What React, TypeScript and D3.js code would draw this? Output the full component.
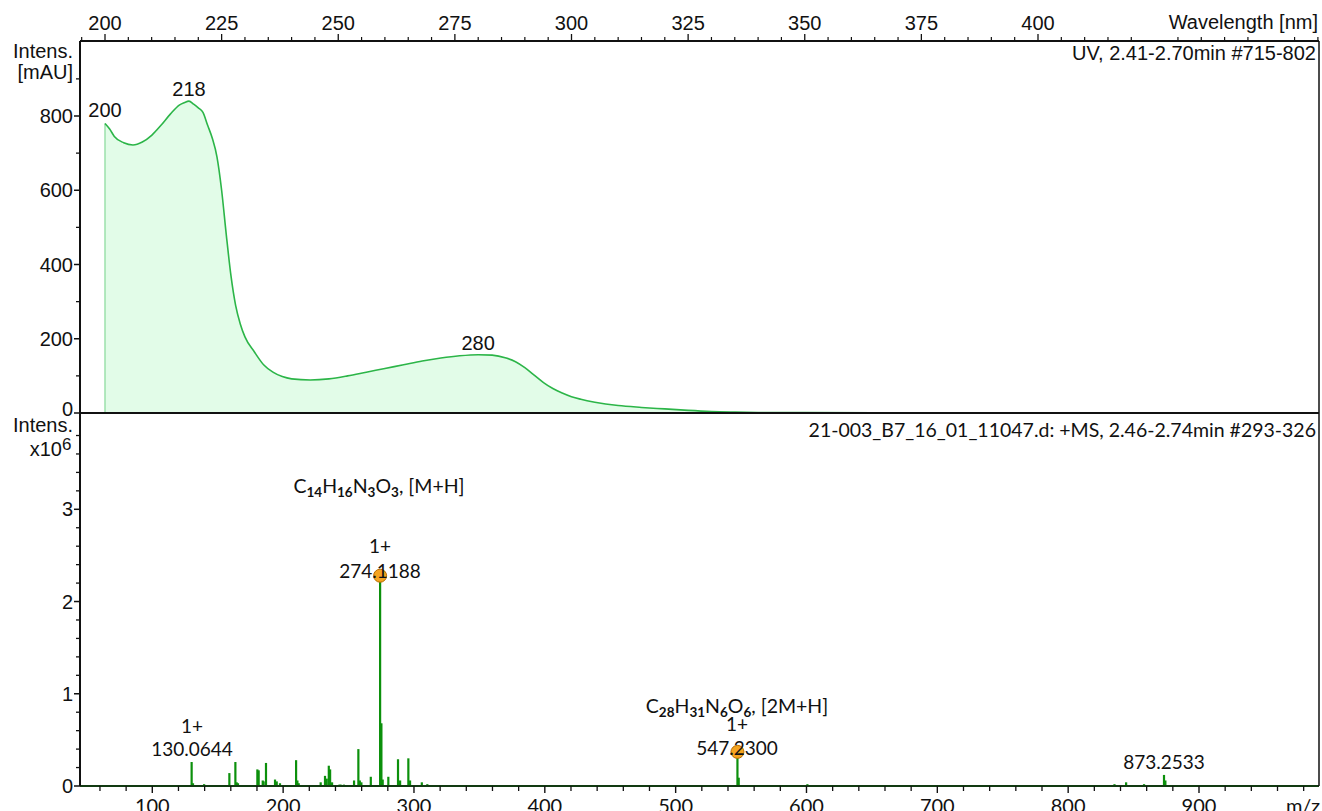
import React from "react";
import * as d3 from "d3";

// ---------- UV spectrum ----------
const uvWavelength = [200, 201, 202, 204, 206, 208, 210, 212, 214, 216, 217, 218, 219, 220, 221, 222, 223, 224, 225, 226, 227, 228, 229, 230, 232, 234, 236, 238, 240, 244, 248, 252, 256, 260, 264, 268, 272, 276, 280, 283, 286, 288, 290, 292, 294, 296, 298, 300, 302, 305, 310, 315, 320, 325, 330, 335, 340, 350, 365];
const uvIntensity = [780, 765, 745, 728, 722, 730, 748, 775, 805, 830, 836, 840, 832, 822, 810, 775, 740, 690, 600, 480, 370, 290, 240, 205, 165, 130, 110, 98, 92, 89, 92, 100, 110, 120, 130, 140, 148, 154, 157, 156, 148, 138, 122, 102, 82, 66, 54, 44, 37, 29, 20, 15, 11, 7, 4, 2.5, 1.5, 1, 0.5];
const uvPeakLabels = [200, 218, 280];
const uvPeakValues = [780, 840, 157];
const uvTicks = [200, 225, 250, 275, 300, 325, 350, 375, 400];
const uvYTicks = [0, 200, 400, 600, 800];

// ---------- MS spectrum (intensity x10^6) ----------
const msMz = [130.0644, 131.1, 139.6, 158.9, 163.5, 164.5, 165.5, 180.3, 181.3, 184.4, 185.1, 186.9, 193.8, 195.1, 197.6, 209.9, 210.9, 211.9, 228.7, 232.0, 233.3, 234.9, 235.9, 237.4, 243.0, 244.0, 246.5, 254.2, 257.5, 258.6, 259.8, 267.0, 274.1188, 275.1, 276.1, 280.4, 287.8, 289.4, 295.7, 297.0, 306.0, 310.2, 547.23, 548.2, 600.7, 835.4, 844.3, 858.0, 873.2533, 874.3];
const msIntensity = [0.26, 0.03, 0.02, 0.14, 0.26, 0.04, 0.03, 0.18, 0.17, 0.06, 0.05, 0.25, 0.07, 0.05, 0.03, 0.28, 0.06, 0.03, 0.04, 0.11, 0.08, 0.22, 0.18, 0.04, 0.015, 0.015, 0.015, 0.06, 0.40, 0.06, 0.04, 0.10, 2.28, 0.68, 0.07, 0.10, 0.29, 0.06, 0.30, 0.06, 0.04, 0.02, 0.37, 0.09, 0.02, 0.02, 0.04, 0.02, 0.12, 0.06];
const msTicks = [100, 200, 300, 400, 500, 600, 700, 800, 900];
const msYTicks = [0, 1, 2, 3];
const markedPeaks = [274.1188, 547.23];
const markedValues = [2.28, 0.37];

const formula1 = [["C", ""], ["14", "s"], ["H", ""], ["16", "s"], ["N", ""], ["3", "s"], ["O", ""], ["3", "s"], [", [M+H]", ""]];
const formula2 = [["C", ""], ["28", "s"], ["H", ""], ["31", "s"], ["N", ""], ["6", "s"], ["O", ""], ["6", "s"], [", [2M+H]", ""]];

const ARIAL = "'Liberation Sans', Arial, sans-serif";
const CAL = "Lato, 'Open Sans', sans-serif";

function Formula({ parts, x, y }: { parts: string[][]; x: number; y: number }) {
  const out: any[] = [];
  let prevSub = false;
  parts.forEach((p, i) => {
    const sub = p[1] === "s";
    let dy = 0;
    if (sub && !prevSub) dy = 4;
    if (!sub && prevSub) dy = -4;
    prevSub = sub;
    out.push(
      <tspan key={i} dy={dy} fontSize={sub ? 13.5 : 19.5} fontWeight={sub ? 700 : 400}>
        {p[0]}
      </tspan>
    );
  });
  return (
    <text x={x} y={y} textAnchor="middle" fontFamily={CAL} fill="#111">
      {out}
    </text>
  );
}

export default function App() {
  const L = 80, R = 1319, T = 41, MID = 413, B = 786;

  const xUV = d3.scaleLinear().domain([200, 400]).range([105, 1038]);
  const yUV = d3.scaleLinear().domain([0, 800]).range([MID, 116]);
  const xMS = d3.scaleLinear().domain([100, 900]).range([152.3, 1199]);
  const yMS = d3.scaleLinear().domain([0, 3]).range([B, 509.3]);

  const uvPts: [number, number][] = uvWavelength.map((w, i) => [w, uvIntensity[i]]);
  const line = d3.line<[number, number]>().x(d => xUV(d[0])).y(d => yUV(d[1])).curve(d3.curveMonotoneX);
  const area = d3.area<[number, number]>().x(d => xUV(d[0])).y0(yUV(0)).y1(d => yUV(d[1])).curve(d3.curveMonotoneX);

  const uvMinor = d3.range(195, 461, 5).filter(v => v % 25 !== 0);
  const uvYMinor = d3.range(100, 1000, 200);
  const msMinor = d3.range(60, 991, 20).filter(v => v % 100 !== 0);
  const msYMinor = d3.range(0.2, 3.95, 0.2).filter(v => Math.abs(v - Math.round(v)) > 0.05);

  const FS = 20;

  return (
    <svg width={1322} height={811} style={{ position: "absolute", left: 0, top: 0, background: "#fff" }}>
      {/* UV fill and line */}
      <path d={area(uvPts) || ""} fill="#e2fce8" stroke="none" />
      <line x1={xUV(200)} x2={xUV(200)} y1={yUV(0)} y2={yUV(uvIntensity[0])} stroke="#9be0ab" strokeWidth={1.5} />
      <path d={line(uvPts) || ""} fill="none" stroke="#2cb548" strokeWidth={1.6} />

      {/* UV peak labels */}
      {uvPeakLabels.map((p, i) => (
        <text key={p} x={xUV(p)} y={yUV(uvPeakValues[i]) - (i === 0 ? 6 : 5)} textAnchor="middle" fontFamily={ARIAL} fontSize={FS} fill="#111">{p}</text>
      ))}

      {/* top axis */}
      <line x1={L} x2={R} y1={T} y2={T} stroke="#111" strokeWidth={2} />
      {uvTicks.map(t => (
        <g key={t}>
          <line x1={xUV(t)} x2={xUV(t)} y1={T} y2={T - 7} stroke="#111" strokeWidth={1.3} />
          <text x={xUV(t)} y={30} textAnchor="middle" fontFamily={ARIAL} fontSize={FS} fill="#111">{t}</text>
        </g>
      ))}
      {uvMinor.map(t => (
        <line key={t} x1={xUV(t)} x2={xUV(t)} y1={T} y2={T - 4} stroke="#111" strokeWidth={1.2} />
      ))}
      <text x={1318} y={29} textAnchor="end" fontFamily={ARIAL} fontSize={FS} fill="#111">Wavelength [nm]</text>
      <text x={1316} y={60} textAnchor="end" fontFamily={ARIAL} fontSize={FS} fill="#111">UV, 2.41-2.70min #715-802</text>

      {/* UV y axis */}
      {uvYTicks.map(t => (
        <g key={t}>
          <line x1={L} x2={L - 6} y1={yUV(t)} y2={yUV(t)} stroke="#111" strokeWidth={1.5} />
          <text x={73} y={yUV(t) + 7 - (t === 0 ? 4 : 0)} textAnchor="end" fontFamily={ARIAL} fontSize={FS} fill="#111">{t}</text>
        </g>
      ))}
      {uvYMinor.map(t => (
        <line key={t} x1={L} x2={L - 4} y1={yUV(t)} y2={yUV(t)} stroke="#111" strokeWidth={1.3} />
      ))}
      <text x={73} y={58} textAnchor="end" fontFamily={ARIAL} fontSize={FS} fill="#111">Intens.</text>
      <text x={73} y={79} textAnchor="end" fontFamily={ARIAL} fontSize={FS} fill="#111">[mAU]</text>

      {/* separator */}
      <line x1={L} x2={R} y1={MID} y2={MID} stroke="#111" strokeWidth={2.2} />

      {/* MS peaks */}
      {msMz.map((m, i) => (
        <line key={i} x1={xMS(m)} x2={xMS(m)} y1={B} y2={yMS(msIntensity[i])} stroke="#0c900c" strokeWidth={2.2} />
      ))}
      {markedPeaks.map((m, i) => (
        <circle key={m} cx={xMS(m)} cy={yMS(markedValues[i])} r={6.5} fill="#f5a41f" stroke="#b86c00" strokeWidth={1} />
      ))}

      {/* MS annotations */}
      <Formula parts={formula1} x={379} y={493} />
      <text x={380} y={553} textAnchor="middle" fontFamily={CAL} fontSize={19} fill="#111">1+</text>
      <text x={380} y={578} textAnchor="middle" fontFamily={CAL} fontSize={19} fill="#111">274.1188</text>
      <text x={192} y={733} textAnchor="middle" fontFamily={CAL} fontSize={19} fill="#111">1+</text>
      <text x={192} y={756} textAnchor="middle" fontFamily={CAL} fontSize={19} fill="#111">130.0644</text>
      <Formula parts={formula2} x={737} y={713} />
      <text x={737} y={731} textAnchor="middle" fontFamily={CAL} fontSize={19} fill="#111">1+</text>
      <text x={737} y={755} textAnchor="middle" fontFamily={CAL} fontSize={19} fill="#111">547.2300</text>
      <text x={1164} y={769} textAnchor="middle" fontFamily={CAL} fontSize={19} fill="#111">873.2533</text>
      <text x={1316} y={437} textAnchor="end" fontFamily={CAL} fontSize={19.5} fill="#111">21-003_B7_16_01_11047.d: +MS, 2.46-2.74min #293-326</text>

      {/* MS y axis */}
      {msYTicks.map(t => (
        <g key={t}>
          <line x1={L} x2={L - 6} y1={yMS(t)} y2={yMS(t)} stroke="#111" strokeWidth={1.5} />
          <text x={73} y={yMS(t) + 7} textAnchor="end" fontFamily={ARIAL} fontSize={FS} fill="#111">{t}</text>
        </g>
      ))}
      {msYMinor.map(t => (
        <line key={t} x1={L} x2={L - 4} y1={yMS(t)} y2={yMS(t)} stroke="#111" strokeWidth={1.3} />
      ))}
      <text x={73} y={432} textAnchor="end" fontFamily={ARIAL} fontSize={FS} fill="#111">Intens.</text>
      <text x={62} y={456} textAnchor="end" fontFamily={ARIAL} fontSize={FS} fill="#111">x10</text>
      <text x={62} y={450} textAnchor="start" fontFamily={ARIAL} fontSize={17} fill="#111">6</text>

      {/* MS x axis */}
      <line x1={L} x2={R} y1={B} y2={B} stroke="#123a12" strokeWidth={2} />
      {msTicks.map(t => (
        <g key={t}>
          <line x1={xMS(t)} x2={xMS(t)} y1={B} y2={B + 7} stroke="#111" strokeWidth={1.4} />
          <text x={xMS(t)} y={813} textAnchor="middle" fontFamily={CAL} fontSize={20} fill="#111">{t}</text>
        </g>
      ))}
      {msMinor.map(t => (
        <line key={t} x1={xMS(t)} x2={xMS(t)} y1={B} y2={B + 5} stroke="#111" strokeWidth={1.3} />
      ))}
      <text x={1303} y={813} textAnchor="middle" fontFamily={CAL} fontSize={20} fill="#111">m/z</text>

      {/* frame */}
      <line x1={L} x2={L} y1={T} y2={B} stroke="#111" strokeWidth={2} />
      <line x1={R} x2={R} y1={T} y2={B} stroke="#111" strokeWidth={1.5} />
    </svg>
  );
}
